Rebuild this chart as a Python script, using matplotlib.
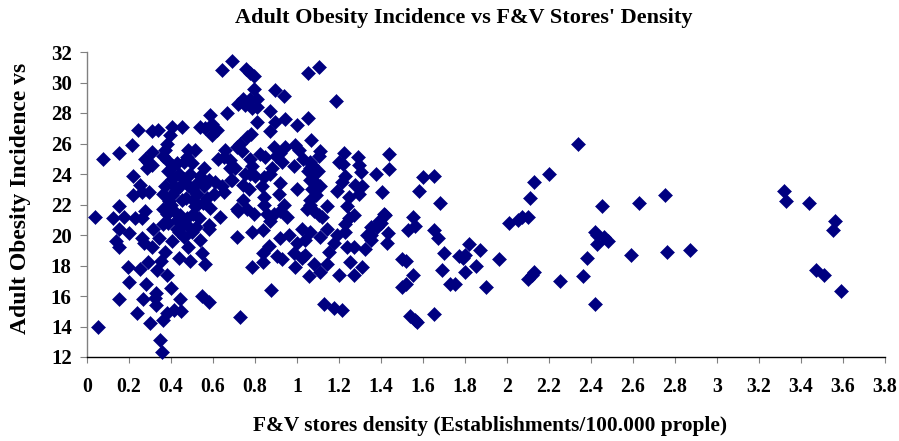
import matplotlib
matplotlib.use("Agg")
import matplotlib.pyplot as plt

plt.rcParams['font.family'] = ['Liberation Serif', 'DejaVu Serif']

density_left = [.078,.154,.216,.245,.308,.34,.404,.451,.396,.383,.372,.364,.308,.277,.308,.285,.29,
 .536,.587,.563,.595,.618,.595,.666,.483,.515,.475,.5,.46,.428,.388,.404,.372,.364,.404,.436,.46,.444,.483,.412,
 .558,.539,.579,.555,.523,.507,.515,.587,.634,.579,.583,.626,.658,.65,.682,.714,.685,.642,.65,.603,.714,.714,.72,
 .218,.253,.218,.26,.296,.154,.126,.038,.176,.229,.26,.277,.154,.199,.137,.154,.26,.27,.308,.313,.343,
 .364,.38,.412,.444,.475,.388,.428,.364,.507,.531,.436,.46,.404,.499,.539,.483,.547,.563,.491,.436,.372,.353,.335,.383,
 .197,.253,.292,.202,.281,.399,.154,.265,.329,.324,.329,.444,.547,.583,.237,.3,.364,.383,.412,.448,.054,.348,.356,
 .42,.47,.5,.53,.39,.41,.45,.52,.57,.61,.49,.43,.38,.4,.46,.48,.52,.55,.69,.645]
obesity_left = [25.0,25.4,25.9,26.9,26.85,26.9,27.05,27.1,26.55,26.0,25.6,25.2,25.45,25.0,24.6,24.4,24.8,
 27.1,27.9,27.0,27.3,26.9,26.55,28.0,25.6,25.6,25.1,24.7,24.8,24.7,24.2,23.7,23.2,22.7,22.6,24.0,23.7,23.2,23.3,23.2,
 24.4,23.9,23.6,23.2,22.7,22.3,21.9,21.8,21.2,20.65,20.4,25.0,25.6,25.1,24.4,25.8,23.6,23.2,22.8,22.7,21.7,19.9,28.6,
 23.9,23.3,22.6,22.8,22.8,21.9,21.1,21.2,21.2,21.1,21.1,21.6,20.4,20.1,19.6,19.2,19.8,19.5,19.2,20.4,19.8,
 21.7,21.4,21.6,21.3,21.1,20.8,21.0,20.7,21.4,21.1,20.2,19.9,19.6,20.2,19.7,19.2,18.8,18.1,18.3,18.5,18.9,18.3,17.7,17.4,
 17.9,17.8,18.25,16.9,16.8,16.5,15.8,15.8,16.2,15.85,15.4,15.8,16.0,15.6,14.9,14.2,14.4,14.9,15.1,15.0,14.0,13.1,12.3,
 22.9,22.4,23.0,23.5,22.2,24.5,22.3,21.9,22.4,23.5,24.0,20.4,24.9,22.0,20.7,20.6,20.5,22.1,31.4,30.8]

density_mid = [.758,.777,.793,1.05,1.107,.796,.897,.94,.745,.777,.809,.754,.785,.809,1.188,.87,.897,.944,1.0,1.052,.873,1.068,
 .78,.76,.73,.738,1.226,1.29,1.11,1.103,1.2,1.22,1.294,1.305,1.374,1.44,1.44,
 .89,.944,.99,1.008,.92,.825,.849,.777,.928,.984,.88,.785,.777,1.03,1.064,1.064,1.08,1.064,1.087,1.11,1.0,1.07,
 .873,.841,.8,.754,.706,.682,.69,.917,.833,.745,.77,.912,.841,
 1.405,1.31,1.278,1.294,1.23,1.215,1.19,1.246,1.238,1.273,1.246,1.23,1.23,1.413,1.39,1.35,1.432,1.334,1.35,1.326,1.27,1.238,
 1.175,1.143,1.19,1.11,1.064,1.024,1.04,1.0,.984,1.04,1.15,1.143,1.254,1.31,1.27,1.2,1.056,1.11,1.08,.99,1.024,.876,1.13,1.175,1.215,.727,
 .785,.84,.84,.865,.905,.928,.92,.96,.785,.84,.873,.89,.936,.952,.92,.857,.72,.745,.793,.76,.841,
 1.064,1.048,1.08,1.103,1.143,1.12,.81,.9,1.07,1.08,1.09,1.06,1.1,1.05]
obesity_mid = [30.9,30.6,30.4,30.6,31.0,29.55,29.5,29.1,28.9,28.9,28.9,28.5,28.3,28.4,28.8,28.1,27.4,27.6,27.2,27.65,26.8,26.2,
 26.6,26.4,26.0,25.5,25.4,25.1,25.5,25.2,24.8,24.65,24.6,24.15,24.0,25.3,24.3,
 25.8,25.8,25.9,25.6,25.4,25.3,25.1,25.0,24.8,24.5,24.4,24.5,24.0,25.0,24.8,24.4,24.0,23.6,23.5,23.2,23.0,23.0,
 24.0,23.8,23.9,24.0,24.4,24.9,23.6,23.4,23.2,23.3,23.0,22.7,22.5,
 22.8,23.2,23.3,22.7,23.9,23.5,22.9,22.5,21.9,21.3,21.1,20.7,20.2,21.4,20.9,20.5,20.1,20.0,19.7,19.1,19.2,19.2,
 19.5,20.4,20.0,19.9,20.2,20.4,19.7,19.5,18.8,18.7,18.9,18.1,18.2,17.9,17.4,17.4,17.3,17.6,18.1,17.9,18.5,16.4,15.5,15.2,15.1,14.6,
 17.9,18.2,18.8,19.3,18.6,18.4,19.8,20.0,20.2,20.3,20.9,21.4,22.0,21.2,21.6,21.4,21.6,22.3,21.4,21.7,22.0,
 22.3,21.7,21.6,21.3,21.9,21.2,27.4,25.2,24.6,23.4,22.6,22.0,24.2,24.2]

density_right = [1.42,1.4,1.38,1.35,1.43,
 1.55,1.56,1.53,1.58,1.6,1.65,1.68,1.65,1.67,1.7,1.69,1.73,1.75,1.65,1.54,1.56,1.57,1.5,1.52,1.5,1.52,1.55,
 1.77,1.79,1.8,1.82,1.8,1.85,1.87,1.9,1.96,2.01,2.05,2.07,2.1,2.11,2.13,2.2,2.1,2.12,2.13,2.25,2.34,2.36,2.38,2.42,2.43,2.45,2.42,2.43,2.46,2.48,
 2.59,2.63,2.75,2.76,2.87,3.32,3.33,3.44,3.47,3.51,3.55,3.56,3.59]
obesity_right = [21.3,20.8,20.5,20.0,19.5,
 21.2,20.6,20.3,22.9,23.8,23.9,22.1,20.3,19.8,18.8,17.7,16.8,16.8,14.8,14.7,14.4,14.3,16.6,16.8,18.4,18.3,17.4,
 18.6,18.5,18.7,19.4,17.6,18.0,19.0,16.6,18.4,20.8,21.0,21.2,21.2,22.4,23.5,24.0,17.1,17.4,17.6,17.0,26.0,17.3,18.5,20.2,20.0,21.9,15.5,19.4,19.9,19.6,
 18.7,22.1,22.6,18.9,19.0,22.9,22.2,22.1,17.7,17.4,20.3,20.9,16.3]

x_ticks = [0,0.2,0.4,0.6,0.8,1,1.2,1.4,1.6,1.8,2,2.2,2.4,2.6,2.8,3,3.2,3.4,3.6,3.8]
x_labels = ['0','0.2','0.4','0.6','0.8','1','1.2','1.4','1.6','1.8','2','2.2','2.4','2.6','2.8','3','3.2','3.4','3.6','3.8']
y_ticks = [12,14,16,18,20,22,24,26,28,30,32]

W, H = 899, 441
fig = plt.figure(figsize=(W/100, H/100), dpi=100)
ax = fig.add_axes([87/W, 1-357/H, (885-87)/W, (357-52)/H])
ax.plot(density_left+density_mid+density_right, obesity_left+obesity_mid+obesity_right,
        ls='none', marker='D', ms=6.7, mfc='#000080', mec='#000080', mew=0.4, clip_on=False, zorder=3)
ax.set_xlim(0, 3.8)
ax.set_ylim(12, 32)
ax.set_xticks(x_ticks, x_labels)
ax.set_yticks(y_ticks)
for s in ('top', 'right'):
    ax.spines[s].set_visible(False)
ax.spines['left'].set_color('#808080')
ax.spines['left'].set_linewidth(1.0)
ax.spines['bottom'].set_color('black')
ax.spines['bottom'].set_linewidth(1.0)
ax.tick_params(axis='x', length=4.5, width=0.8, color='#808080', pad=10, labelsize=14.2)
ax.tick_params(axis='y', length=5, width=0.8, color='#808080', pad=6, labelsize=15)
for t in ax.get_xticklabels() + ax.get_yticklabels():
    t.set_fontweight('bold')

fig.text(464/W, 1-18/H, "Adult Obesity Incidence vs F&V Stores' Density",
         ha='center', va='center', fontsize=16, fontweight='bold')
fig.text(490/W, 1-426/H, "F&V stores density (Establishments/100.000 prople)",
         ha='center', va='center', fontsize=15.4, fontweight='bold')
fig.text(21/W, 1-198/H, "Adult Obesity Incidence vs", rotation=90,
         ha='center', va='center', fontsize=17, fontweight='bold')
fig.savefig('out.png', dpi=100)
